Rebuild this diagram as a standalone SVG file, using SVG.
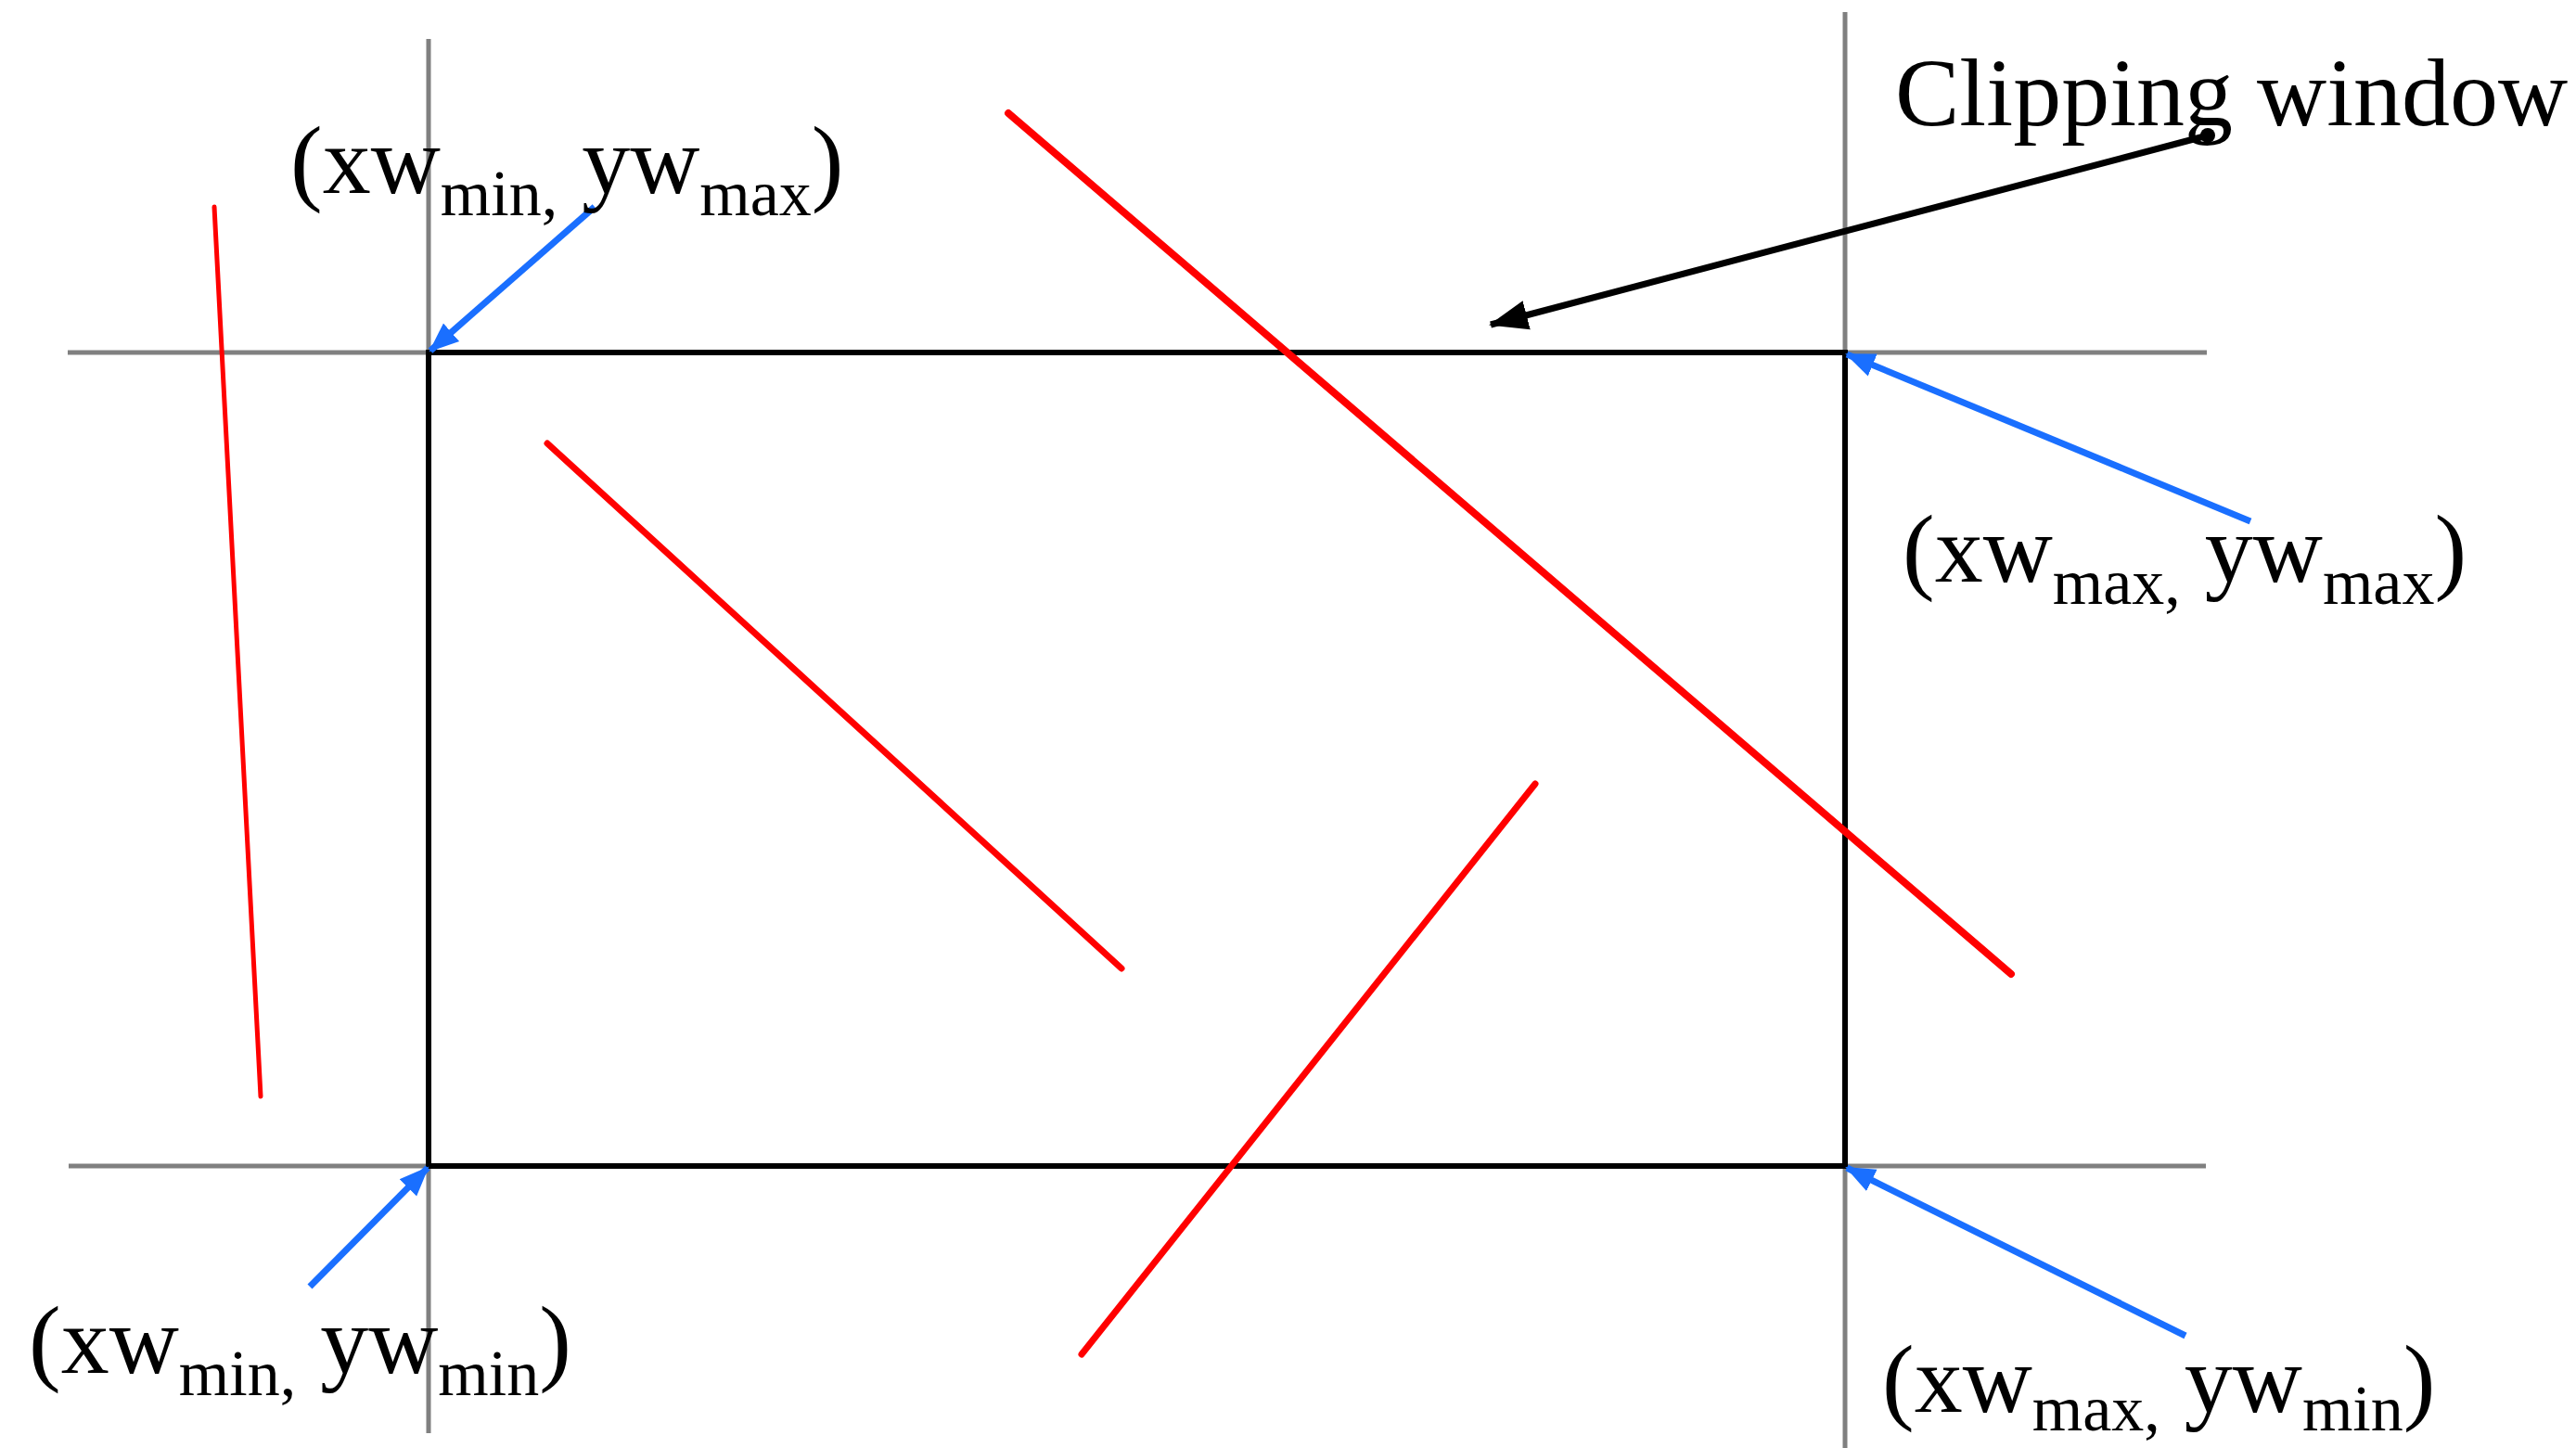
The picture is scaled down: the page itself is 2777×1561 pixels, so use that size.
<svg xmlns="http://www.w3.org/2000/svg" width="2777" height="1561" viewBox="0 0 2777 1561">
<defs>
<style>
.grid{stroke:#808080;stroke-width:5;fill:none}
.win{stroke:#000;stroke-width:6;fill:none}
.seg{stroke:#ff0000;stroke-width:7;stroke-linecap:round}
.blue{stroke:#1a6fff;stroke-width:7;fill:none;marker-end:url(#bh)}
.blk{stroke:#000;stroke-width:7;fill:none;marker-end:url(#kh)}
.lbl{font-family:"Liberation Serif","Times New Roman",serif;font-size:104px;fill:#000}
.sub{font-size:70px}
</style>
<marker id="bh" markerUnits="userSpaceOnUse" markerWidth="34" markerHeight="30" refX="30" refY="13" orient="auto" viewBox="0 0 34 26">
<path d="M0,0 L32,13 L0,26 z" fill="#1a6fff"/>
</marker>
<marker id="kh" markerUnits="userSpaceOnUse" markerWidth="44" markerHeight="36" refX="40" refY="16" orient="auto" viewBox="0 0 44 32">
<path d="M0,0 L42,16 L0,32 z" fill="#000"/>
</marker>
</defs>
<rect width="2777" height="1561" fill="#fff"/>
<g id="grid-lines">
<line class="grid" x1="462" y1="42" x2="462" y2="1545"/>
<line class="grid" x1="1989" y1="13" x2="1989" y2="1561"/>
<line class="grid" x1="73" y1="380" x2="2379" y2="380"/>
<line class="grid" x1="74" y1="1257" x2="2378" y2="1257"/>
</g>
<g id="clipping-window">
<rect class="win" x="462" y="380" width="1527" height="877"/>
</g>
<g id="segments">
<line class="seg" x1="231" y1="223" x2="281" y2="1182" style="stroke-width:5"/>
<line class="seg" x1="590" y1="478" x2="1209" y2="1044"/>
<line class="seg" x1="1087" y1="122" x2="2168" y2="1050" style="stroke-width:8"/>
<line class="seg" x1="1655" y1="845" x2="1166" y2="1460"/>
</g>
<g id="connectors">
<line class="blue" x1="641" y1="223" x2="464" y2="378"/>
<line class="blue" x1="2426" y1="562" x2="1991" y2="382"/>
<line class="blue" x1="334" y1="1387" x2="461" y2="1259"/>
<line class="blue" x1="2356" y1="1440" x2="1991" y2="1259"/>
<line class="blk" x1="2380" y1="146" x2="1607" y2="350"/>
<circle cx="2380" cy="146" r="8" fill="#000"/>
</g>
<g id="label-clipping-window">
<text class="lbl" x="2043" y="135">Clipping window</text>
</g>
<g id="label-tl">
<text class="lbl" x="313" y="208">(xw<tspan class="sub" dy="24">min,</tspan><tspan dy="-24"> yw</tspan><tspan class="sub" dy="24">max</tspan><tspan dy="-24">)</tspan></text>
</g>
<g id="label-tr">
<text class="lbl" x="2051" y="627">(xw<tspan class="sub" dy="24">max,</tspan><tspan dy="-24"> yw</tspan><tspan class="sub" dy="24">max</tspan><tspan dy="-24">)</tspan></text>
</g>
<g id="label-bl">
<text class="lbl" x="31" y="1480">(xw<tspan class="sub" dy="24">min,</tspan><tspan dy="-24"> yw</tspan><tspan class="sub" dy="24">min</tspan><tspan dy="-24">)</tspan></text>
</g>
<g id="label-br">
<text class="lbl" x="2029" y="1522">(xw<tspan class="sub" dy="20">max,</tspan><tspan dy="-20"> yw</tspan><tspan class="sub" dy="20">min</tspan><tspan dy="-20">)</tspan></text>
</g>
</svg>
